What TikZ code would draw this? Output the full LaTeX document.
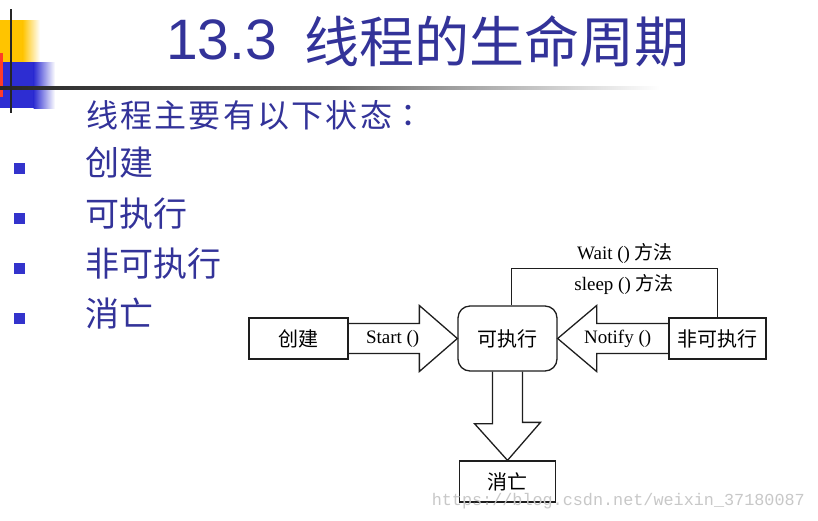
\documentclass[tikz,border=0pt]{standalone}
\usepackage{fontspec}
\setmainfont{Liberation Serif}
\setsansfont{Liberation Sans}
\setmonofont{Liberation Mono}
\newfontfamily\cjk{Noto Sans CJK SC}
\newfontfamily\cjksp[LetterSpace=7]{Noto Sans CJK SC}
\newfontfamily\cjktc{Noto Sans CJK TC}
\usetikzlibrary{calc}
\definecolor{titleblue}{RGB}{51,51,153}
\definecolor{bulletblue}{RGB}{51,51,204}
\definecolor{decoyellow}{RGB}{255,196,0}
\definecolor{decoblue}{RGB}{45,45,210}
\definecolor{decored}{RGB}{255,60,40}
\definecolor{wmgray}{RGB}{200,200,200}
\definecolor{ink}{RGB}{30,30,30}
\tikzset{
  box/.style={draw=ink, line width=1.3pt, minimum width=99pt, minimum height=41pt, inner sep=0pt,
    font=\cjk\fontsize{20}{20}\selectfont},
  rbox/.style={box, rounded corners=12pt, minimum height=65pt},
  blk/.style={draw=ink, line width=1.3pt, line join=miter},
  lbl/.style={inner sep=0pt, font=\rmfamily\fontsize{19}{19}\selectfont},
  item/.style={anchor=west, inner sep=0pt, text=titleblue, font=\cjk\fontsize{34}{34}\selectfont},
  bullet/.style={fill=bulletblue, minimum size=11pt, inner sep=0pt},
}
\begin{document}
\begin{tikzpicture}[x=1pt,y=-1pt]
\useasboundingbox (0,0) rectangle (818,520);
\fill[white] (0,0) rectangle (818,520);
% decoration top-left
\fill[decoyellow] (0,20) rectangle (23,62);
\shade[left color=decoyellow, right color=white] (22.5,20) rectangle (40,62);
\fill[decoblue] (0,62) rectangle (34,108);
\shade[left color=decoblue, right color=white] (33.5,62) rectangle (55,108);
\fill[decored] (0,53) rectangle (3,97);
\shade[left color=black!85, right color=white, middle color=black!60] (0,86.8) rectangle (660,89.6);
\draw[black!85, line width=2pt] (11,9) -- (11,113);
% title
\node[anchor=west, inner sep=0pt, text=titleblue, font=\sffamily\fontsize{57}{57}\selectfont] (t1) at (166,40) {13.3};
\node[anchor=west, inner sep=0pt, text=titleblue, font=\cjk\fontsize{55}{55}\selectfont] (t2) at (304,41) {线程的生命周期};
% list
\node[item, font=\cjksp\fontsize{32}{32}\selectfont] (sub) at (86,115) {线程主要有以下状态{\cjktc ：}};
\node[bullet] (b1) at (19,168) {};
\node[bullet] (b2) at (19,218) {};
\node[bullet] (b3) at (19,268) {};
\node[bullet] (b4) at (19,318) {};
\node[item] (i1) at (85,163) {创建};
\node[item] (i2) at (85,214) {可执行};
\node[item] (i3) at (85,264) {非可执行};
\node[item] (i4) at (85,314) {消亡};
% diagram
\node[box] (create) at (298.5,338.5) {创建};
\node[rbox] (run) at (507.5,338.5) {可执行};
\node[box, minimum width=97pt] (nonrun) at (717.5,338.5) {非可执行};
\node[box, minimum width=96pt] (dead) at (507.5,481.5) {消亡};
% start arrow
\draw[blk] ([shift={(0,-15)}]create.east) -- ([shift={(-38,-15)}]run.west) -- ++(0,-18)
  -- (run.west) -- ++(-38,33) -- ++(0,-18) -- ([shift={(0,15)}]create.east);
\node[lbl] (lstart) at ([xshift=44pt]create.east) {Start ()};
% notify arrow
\draw[blk] ([shift={(0,-15)}]nonrun.west) -- ([shift={(39,-15)}]run.east) -- ++(0,-18)
  -- (run.east) -- ++(39,33) -- ++(0,-18) -- ([shift={(0,15)}]nonrun.west);
\node[lbl] (lnotify) at ([xshift=60pt]run.east) {Notify ()};
% down arrow
\draw[blk] ([shift={(-15,0)}]run.south) -- ++(0,52) -- ++(-18,0) -- (dead.north)
  -- ++(33,-38) -- ++(-18,0) -- ([shift={(15,0)}]run.south);
% loop line
\draw[blk] ([xshift=4pt]run.north) -- ++(0,-37) -| (nonrun.north);
\node[lbl] (lwait) at (625,253) {Wait () {\cjk 方法}};
\node[lbl] (lsleep) at (624,284) {sleep () {\cjk 方法}};
% watermark
\node[anchor=east, inner sep=0pt, text=wmgray, font=\ttfamily\fontsize{16.8}{16.8}\selectfont] (wm) at (805,501) {https://blog.csdn.net/weixin\_37180087};
\end{tikzpicture}
\end{document}
